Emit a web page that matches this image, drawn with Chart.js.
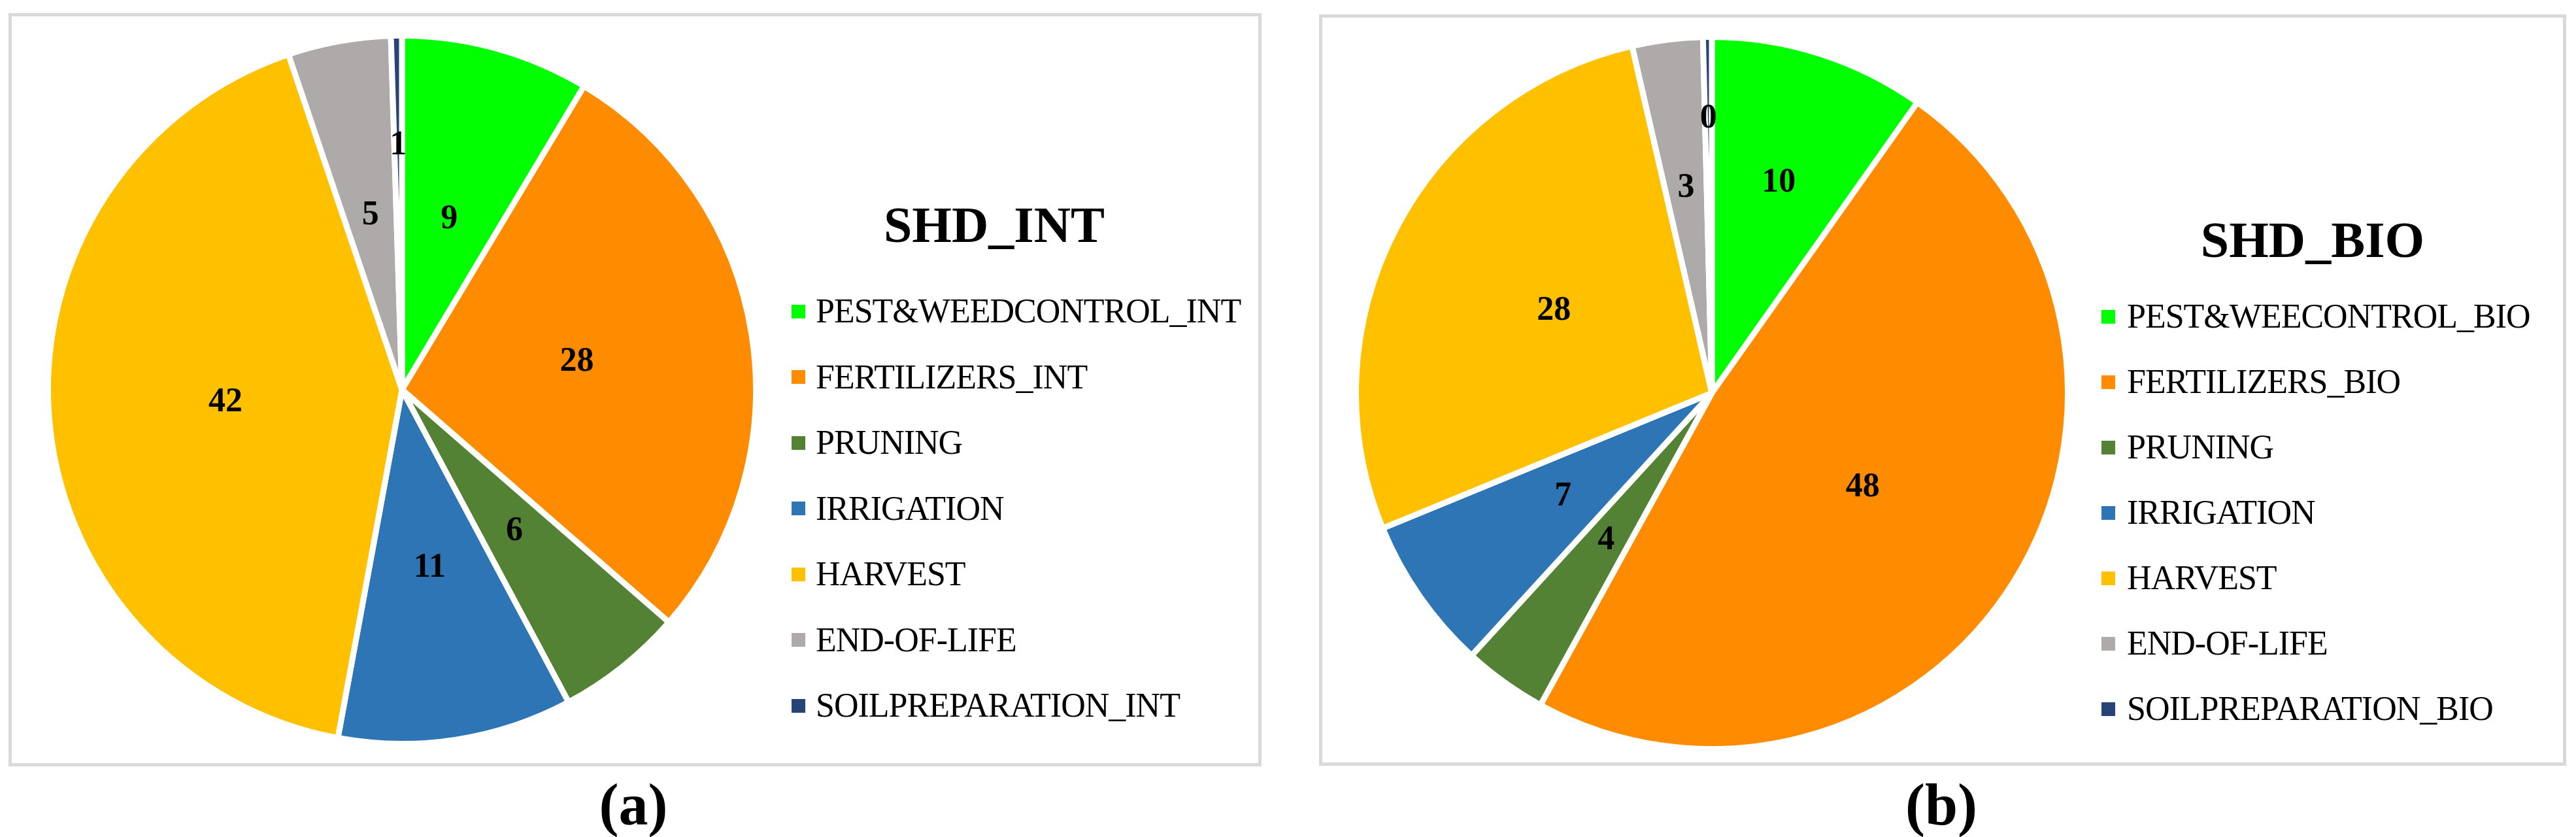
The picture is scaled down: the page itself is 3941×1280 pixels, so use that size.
<!DOCTYPE html>
<html lang="en">
<head>
  <meta charset="UTF-8" />
  <title>SHD_INT / SHD_BIO</title>
  <script src="https://cdn.jsdelivr.net/npm/chart.js"></script>
  <style>
    body { margin: 0; width: 3941px; height: 1280px; background: #fff; position: relative; overflow: hidden;
           font-family: "Liberation Serif", serif; color: #000; }
    .panel { position: absolute; border: 5px solid #d9d9d9; box-sizing: border-box; }
    canvas { position: absolute; }
    .title { position: absolute; width: 1000px; text-align: center; font-weight: bold; font-size: 78px; line-height: 1; }
    .legend { position: absolute; }
    .row { position: absolute; height: 52px; display: flex; align-items: center; font-size: 52px; line-height: 1;
           white-space: nowrap; letter-spacing: -1px; }
    .box { width: 21px; height: 21px; flex: none; }
    .cap { position: absolute; width: 400px; text-align: center; font-weight: bold; font-size: 90px; line-height: 1; }
  </style>
</head>
<body>
  <div class="panel" style="left:13px;top:20px;width:1917px;height:1152px"></div>
  <div class="panel" style="left:2018px;top:22px;width:1908px;height:1149px"></div>

  <canvas id="pieInt" width="1092" height="1092" style="left:69px;top:50px"></canvas>
  <canvas id="pieBio" width="1098" height="1098" style="left:2070px;top:52px"></canvas>

  <div class="title" style="left:1021px;top:305px">SHD_INT</div>
  <div class="title" style="left:3038px;top:328px">SHD_BIO</div>
  <div id="legendInt" class="legend" style="left:1211px;top:450px"></div>
  <div id="legendBio" class="legend" style="left:3215px;top:458px"></div>

  <div class="cap" style="left:769px;top:1186px">(a)</div>
  <div class="cap" style="left:2770px;top:1186px">(b)</div>

  <script>
    const categoriesInt = ['PEST&WEEDCONTROL_INT', 'FERTILIZERS_INT', 'PRUNING', 'IRRIGATION', 'HARVEST', 'END-OF-LIFE', 'SOILPREPARATION_INT'];
    const categoriesBio = ['PEST&WEECONTROL_BIO', 'FERTILIZERS_BIO', 'PRUNING', 'IRRIGATION', 'HARVEST', 'END-OF-LIFE', 'SOILPREPARATION_BIO'];
    const valuesInt = [8.6, 27.8, 5.8, 10.7, 41.9, 4.7, 0.5];
    const valuesBio = [9.8, 48.2, 3.8, 7.0, 27.6, 3.2, 0.4];
    const sliceColors = ['#00ff00', '#ff8c00', '#548235', '#2e75b6', '#ffc000', '#aeaaaa', '#264478'];

    // value labels inside the slices
    const sliceLabels = {
      id: 'sliceLabels',
      afterDatasetsDraw(chart, args, opts) {
        const ctx = chart.ctx;
        const meta = chart.getDatasetMeta(0);
        const values = chart.data.datasets[0].data;
        ctx.save();
        ctx.font = opts.font;
        ctx.fillStyle = '#000';
        ctx.textAlign = 'center';
        ctx.textBaseline = 'middle';
        meta.data.forEach((arc, i) => {
          const p = arc.getProps(['x', 'y', 'startAngle', 'endAngle', 'outerRadius'], true);
          const mid = (p.startAngle + p.endAngle) / 2;
          const r = p.outerRadius * opts.radius[i];
          ctx.fillText(String(Math.round(values[i])), p.x + Math.cos(mid) * r, p.y + Math.sin(mid) * r);
        });
        ctx.restore();
      }
    };

    function makePie(id, labels, values, labelRadius) {
      return new Chart(document.getElementById(id), {
        type: 'pie',
        data: {
          labels: labels,
          datasets: [{
            data: values,
            backgroundColor: sliceColors,
            borderColor: '#ffffff',
            borderWidth: 9,
            hoverOffset: 0
          }]
        },
        options: {
          responsive: false,
          animation: false,
          layout: { padding: 0 },
          plugins: {
            legend: { display: false },
            tooltip: { enabled: false },
            sliceLabels: {
              font: 'bold 52px "Liberation Serif", serif',
              radius: labelRadius
            }
          }
        },
        plugins: [sliceLabels]
      });
    }

    function makeLegend(id, labels, gap, step) {
      const el = document.getElementById(id);
      labels.forEach((name, i) => {
        const row = document.createElement('div');
        row.className = 'row';
        row.style.top = (i * step) + 'px';
        const box = document.createElement('span');
        box.className = 'box';
        box.style.background = sliceColors[i];
        box.style.marginRight = gap + 'px';
        const txt = document.createElement('span');
        txt.textContent = name;
        row.appendChild(box);
        row.appendChild(txt);
        el.appendChild(row);
      });
    }

    makePie('pieInt', categoriesInt, valuesInt, [0.5, 0.5, 0.51, 0.51, 0.5, 0.5, 0.69]);
    makePie('pieBio', categoriesBio, valuesBio, [0.62, 0.5, 0.51, 0.51, 0.5, 0.58, 0.77]);
    makeLegend('legendInt', categoriesInt, 16, 100.5);
    makeLegend('legendBio', categoriesBio, 18, 100);
  </script>
</body>
</html>
